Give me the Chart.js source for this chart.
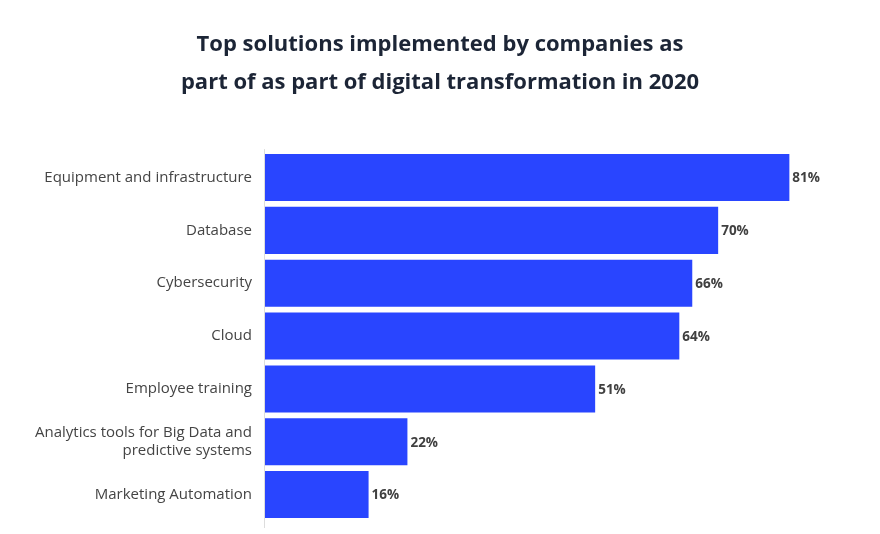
<!DOCTYPE html>
<html>
<head>
<meta charset="utf-8">
<script src="https://cdn.jsdelivr.net/npm/chart.js@4.4.1/dist/chart.umd.min.js"></script>
<style>
  html, body { margin: 0; padding: 0; background: #ffffff; }
  #wrap { width: 880px; height: 534px; }
</style>
</head>
<body>
<div id="wrap"><canvas id="c" width="880" height="534"></canvas></div>
<script>
const titleLines = ['Top solutions implemented by companies as', 'part of as part of digital transformation in 2020'];
const categories = [
  'Equipment and infrastructure',
  'Database',
  'Cybersecurity',
  'Cloud',
  'Employee training',
  ['Analytics tools for Big Data and', 'predictive systems'],
  'Marketing Automation'
];
const shares = [81, 70, 66, 64, 51, 22, 16];
const valueSuffix = '%';

const FONT = "'Open Sans', 'Noto Sans', sans-serif";

const valueLabels = {
  id: 'valueLabels',
  afterDatasetsDraw(chart) {
    const ctx = chart.ctx;
    const meta = chart.getDatasetMeta(0);
    ctx.save();
    ctx.font = "bold 13.5px " + FONT;
    ctx.fillStyle = '#404040';
    ctx.textAlign = 'left';
    ctx.textBaseline = 'middle';
    meta.data.forEach((bar, i) => {
      ctx.fillText(shares[i] + valueSuffix, bar.x + 3, bar.y + 1);
    });
    ctx.restore();
  }
};

const axisLine = {
  id: 'axisLine',
  beforeDatasetsDraw(chart) {
    const a = chart.chartArea;
    const ctx = chart.ctx;
    ctx.save();
    ctx.strokeStyle = '#dddddd';
    ctx.lineWidth = 1;
    ctx.beginPath();
    ctx.moveTo(a.left - 0.5, a.top - 2);
    ctx.lineTo(a.left - 0.5, a.bottom + 7);
    ctx.stroke();
    ctx.restore();
  }
};

new Chart(document.getElementById('c'), {
  type: 'bar',
  data: {
    labels: categories,
    datasets: [{
      data: shares,
      backgroundColor: '#2945ff',
      borderWidth: 0,
      barPercentage: 0.89,
      categoryPercentage: 1.0
    }]
  },
  options: {
    indexAxis: 'y',
    responsive: false,
    animation: false,
    layout: { padding: { left: 0, right: 0, top: 0, bottom: 13 } },
    plugins: {
      legend: { display: false },
      tooltip: { enabled: false },
      title: {
        display: true,
        text: titleLines,
        color: '#1c2536',
        font: { family: FONT, size: 22, weight: 'bold', lineHeight: 1.73 },
        padding: { top: 26, bottom: 49 }
      }
    },
    scales: {
      x: {
        display: false,
        min: 0,
        max: 95
      },
      y: {
        grid: { display: false, drawTicks: false },
        border: { display: false },
        ticks: {
          color: '#444444',
          font: { family: FONT, size: 15 },
          padding: 13
        },
        afterFit(scale) {
          scale.width = 265;
          scale.paddingTop = 0;
          scale.paddingBottom = 0;
        }
      }
    }
  },
  plugins: [valueLabels, axisLine]
});
</script>
</body>
</html>
